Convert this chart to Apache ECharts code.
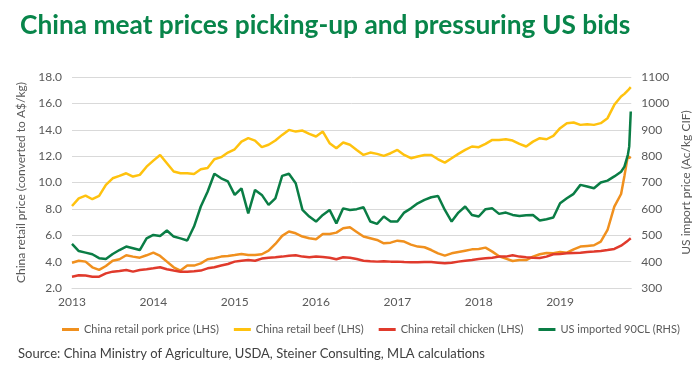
<!DOCTYPE html>
<html><head><meta charset="utf-8">
<script src="https://cdn.jsdelivr.net/npm/echarts@6/dist/echarts.min.js"></script>
<style>html,body{margin:0;padding:0;background:#fff}#c{width:700px;height:373px}</style>
</head><body><div id="c"></div>
<script>
// Dates (monthly, with finer points at the end)
const dates = [
 '2013-01','2013-02','2013-03','2013-04','2013-05','2013-06','2013-07','2013-08','2013-09','2013-10','2013-11','2013-12',
 '2014-01','2014-02','2014-03','2014-04','2014-05','2014-06','2014-07','2014-08','2014-09','2014-10','2014-11','2014-12',
 '2015-01','2015-02','2015-03','2015-04','2015-05','2015-06','2015-07','2015-08','2015-09','2015-10','2015-11','2015-12',
 '2016-01','2016-02','2016-03','2016-04','2016-05','2016-06','2016-07','2016-08','2016-09','2016-10','2016-11','2016-12',
 '2017-01','2017-02','2017-03','2017-04','2017-05','2017-06','2017-07','2017-08','2017-09','2017-10','2017-11','2017-12',
 '2018-01','2018-02','2018-03','2018-04','2018-05','2018-06','2018-07','2018-08','2018-09','2018-10','2018-11','2018-12',
 '2019-01','2019-02','2019-03','2019-04','2019-05','2019-06','2019-07','2019-08','2019-09','2019-10',
 '2019-10-16','2019-11-01','2019-11-07','2019-11-14'
];
const porkLHS = [
 3.92,4.07,4.0,3.57,3.37,3.67,4.07,4.18,4.48,4.38,4.3,4.48,4.68,4.43,4.0,3.57,3.32,3.7,3.7,3.87,4.18,
 4.25,4.38,4.43,4.5,4.58,4.5,4.5,4.56,4.83,5.34,5.95,6.28,6.15,5.9,5.77,5.69,6.1,6.1,6.2,6.53,6.6,
 6.25,5.9,5.77,5.64,5.39,5.44,5.59,5.52,5.29,5.14,5.09,4.88,4.63,4.45,4.63,4.73,4.83,4.93,4.96,5.06,4.76,
 4.4,4.23,4.05,4.12,4.12,4.38,4.56,4.66,4.63,4.73,4.68,4.93,5.14,5.19,5.24,5.52,6.4,8.17,9.13,
 10.5,12.02,12.1,11.84
];
const beefLHS = [
 8.22,8.8,9.0,8.73,8.98,9.82,10.32,10.5,10.7,10.45,10.58,11.2,11.66,12.09,11.46,10.83,10.7,10.7,10.65,11.0,11.1,
 11.76,11.92,12.27,12.52,13.1,13.36,13.18,12.68,12.86,13.18,13.61,13.99,13.86,13.94,13.69,13.49,13.86,12.98,12.6,13.03,12.86,
 12.47,12.09,12.27,12.17,12.02,12.22,12.47,12.09,11.84,11.97,12.09,12.09,11.76,11.51,11.84,12.17,12.47,12.73,12.68,12.93,13.23,
 13.23,13.28,13.18,12.93,12.73,13.1,13.36,13.28,13.54,14.12,14.5,14.55,14.37,14.42,14.37,14.5,14.88,15.89,16.52,
 16.72,16.98,17.08,17.23
];
const chickenLHS = [
 2.86,2.96,2.94,2.86,2.86,3.11,3.24,3.29,3.37,3.24,3.37,3.42,3.49,3.57,3.42,3.32,3.24,3.24,3.27,3.32,3.49,
 3.57,3.7,3.82,4.0,4.07,4.12,4.07,4.23,4.3,4.33,4.38,4.45,4.48,4.38,4.33,4.38,4.35,4.3,4.18,4.33,4.3,
 4.2,4.07,4.02,4.0,4.02,4.0,4.0,3.97,3.95,3.95,3.97,3.97,3.92,3.87,3.92,4.0,4.07,4.12,4.2,4.25,4.3,
 4.38,4.38,4.48,4.38,4.33,4.3,4.28,4.38,4.56,4.58,4.63,4.66,4.68,4.73,4.76,4.81,4.88,4.96,5.21,
 5.39,5.59,5.64,5.77
];
const us90clRHS = [
 467,440,434,428,413,410,429,444,457,451,444,488,501,497,518,495,488,480,533,609,665,
 733,716,704,653,678,583,672,653,615,640,725,733,697,596,571,552,577,596,545,602,596,
 599,606,552,543,571,552,552,586,602,621,634,644,649,596,552,586,609,577,571,599,602,
 581,586,577,573,576,577,556,561,567,621,640,657,691,685,678,700,707,723,741,
 760,805,836,969
];
const seriesNames = ['China retail pork price (LHS)','China retail beef (LHS)','China retail chicken (LHS)','US imported 90CL (RHS)'];
const seriesColors = ['#F0901E','#FFC20E','#E03A2C','#0A7D45'];
const leftTicks = {min:2, max:18, interval:2};
const rightTicks = {min:300, max:1100, interval:100};
const yearRange = {min:2013, max:2019.875};

function toYear(s){const p=s.split('-');return +p[0]+(p[1]-1)/12+((p[2]||1)-1)/365;}
const xs = dates.map(toYear);
const pair = arr => arr.map((v,i)=>[xs[i],v]);
const font = 'Lato, "Open Sans", sans-serif';
const gray = '#595959';

const chart = echarts.init(document.getElementById('c'), null, {renderer:'canvas'});
const dataSets = [porkLHS, beefLHS, chickenLHS, us90clRHS];
chart.setOption({
  animation:false,
  textStyle:{fontFamily:font},
  title:{text:'China meat prices picking-up and pressuring US bids', left:15, top:8,
    textStyle:{fontFamily:font, fontWeight:'bold', fontSize:26.3, color:'#08854A'}},
  grid:{left:72, right:63, top:77, bottom:85},
  legend:{left:57, top:319, icon:'rect', itemWidth:17, itemHeight:3, itemGap:15,
    textStyle:{fontFamily:font, fontSize:11, color:gray}, data:seriesNames},
  graphic:[{type:'text', left:18, top:347, style:{text:'Source: China Ministry of Agriculture, USDA, Steiner Consulting, MLA calculations', fontFamily:font, fontSize:13, fill:'#404040'}}],
  xAxis:{type:'value', min:yearRange.min, max:yearRange.max, interval:1,
    axisLine:{show:true, lineStyle:{color:'#d9d9d9'}}, axisTick:{show:false}, splitLine:{show:false},
    axisLabel:{color:gray, fontSize:12, margin:8, showMaxLabel:false, formatter:v=>Number.isInteger(v)?String(v):''}},
  yAxis:[
    {type:'value', min:leftTicks.min, max:leftTicks.max, interval:leftTicks.interval, position:'left',
     name:'China retail price (converted to A$/kg)', nameLocation:'middle', nameGap:45, nameRotate:90,
     nameTextStyle:{color:gray, fontSize:12, fontFamily:font},
     axisLine:{show:false}, axisTick:{show:false},
     axisLabel:{color:gray, fontSize:12, margin:10, formatter:v=>v.toFixed(1)},
     splitLine:{lineStyle:{color:'#d9d9d9', width:1}}},
    {type:'value', min:rightTicks.min, max:rightTicks.max, interval:rightTicks.interval, position:'right',
     name:'US import price (Ac/kg CIF)', nameLocation:'middle', nameGap:46, nameRotate:90,
     nameTextStyle:{color:gray, fontSize:12, fontFamily:font},
     axisLine:{show:false}, axisTick:{show:false},
     axisLabel:{color:gray, fontSize:12, margin:10, formatter:v=>String(v)},
     splitLine:{show:false}}
  ],
  series: dataSets.map((d,i)=>({
    name:seriesNames[i], type:'line', yAxisIndex: i===3?1:0, data:pair(d),
    showSymbol:false, symbol:'none', lineStyle:{width:2.5, color:seriesColors[i]}, itemStyle:{color:seriesColors[i]}, z:2+i
  }))
});
</script></body></html>
